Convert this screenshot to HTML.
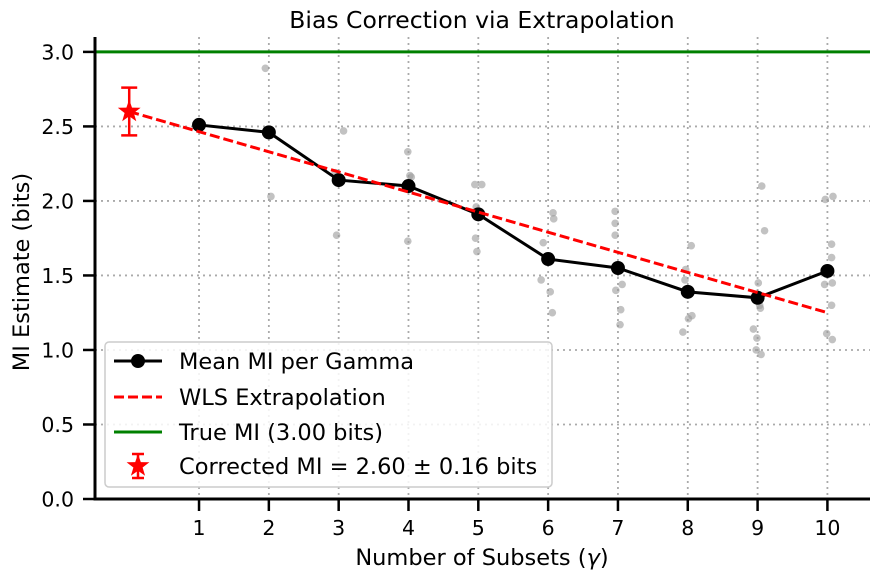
<!DOCTYPE html>
<html><head><meta charset="utf-8"><style>
body{margin:0;background:#fff;}
svg{display:block;font-family:"DejaVu Sans","Liberation Sans",sans-serif;}
</style></head><body>
<svg id="chart" width="878" height="583" viewBox="0 0 878 583" xmlns="http://www.w3.org/2000/svg"></svg>
<script>
const gammas=[1,2,3,4,5,6,7,8,9,10];
const meanMI=[2.51,2.46,2.14,2.10,1.91,1.61,1.55,1.39,1.35,1.53];
const scatterG=[1,2,2,3,3,3,4,4,4,4,5,5,5,5,5,6,6,6,6,6,6,7,7,7,7,7,7,7,8,8,8,8,8,8,8,9,9,9,9,9,9,9,9,9,10,10,10,10,10,10,10,10,10];
const scatterOff=[0,-0.05,0.03,0.07,-0.03,-0.05,-0.01,0.02,0.04,-0.01,-0.05,0.05,-0.03,-0.04,-0.02,0.07,0.08,-0.07,-0.1,0.03,0.06,-0.04,-0.04,-0.04,0.06,-0.03,0.04,0.03,0.05,-0.03,-0.04,0.01,0.06,-0.07,0.0,0.06,0.1,0.01,0.03,0.04,-0.06,-0.01,-0.02,0.05,-0.03,0.08,0.06,0.06,0.07,-0.04,0.06,-0.01,0.07];
const scatterV=[2.51,2.89,2.03,2.47,1.77,2.19,2.33,2.17,2.16,1.73,2.11,2.11,1.96,1.75,1.66,1.92,1.88,1.72,1.47,1.39,1.25,1.93,1.85,1.77,1.44,1.40,1.27,1.17,1.70,1.54,1.47,1.21,1.23,1.12,1.38,2.10,1.80,1.45,1.30,1.28,1.14,1.08,1.00,0.97,2.01,2.03,1.71,1.62,1.45,1.44,1.30,1.11,1.07];
const wlsX=[0,10];
const wlsY=[2.60,1.25];
const trueMI=3.0;
const corrected=2.60, correctedErr=0.16;
const xTicks=[1,2,3,4,5,6,7,8,9,10];
const yTicks=[0,0.5,1.0,1.5,2.0,2.5,3.0];
const yTickLabels=["0.0","0.5","1.0","1.5","2.0","2.5","3.0"];

const L=95,R=870,T=37,B=499;
const xMin=-0.49,xMax=10.61,yMin=0,yMax=3.1;
const sx=v=>L+(v-xMin)/(xMax-xMin)*(R-L);
const sy=v=>B-(v-yMin)/(yMax-yMin)*(B-T);
const svg=document.getElementById('chart');
const NS='http://www.w3.org/2000/svg';
function mk(tag,attrs,parent){const e=document.createElementNS(NS,tag);for(const k in attrs)e.setAttribute(k,attrs[k]);(parent||svg).appendChild(e);return e;}

xTicks.forEach(t=>{const l=mk('line',{x1:sx(t),x2:sx(t),y1:T,y2:B,stroke:'#aaa','stroke-width':1.8,'stroke-dasharray':'2,4'});

});
yTicks.forEach(t=>{const l=mk('line',{x1:L,x2:R,y1:sy(t),y2:sy(t),stroke:'#aaa','stroke-width':1.8,'stroke-dasharray':'2,4'});

});

scatterV.forEach((v,i)=>{const c=mk('circle',{cx:sx(scatterG[i]+scatterOff[i]),cy:sy(v),r:3.8,fill:'#999','fill-opacity':0.6});

});

const tl=mk('line',{x1:L,x2:R,y1:sy(trueMI),y2:sy(trueMI),stroke:'#008000','stroke-width':3});



const mp=mk('polyline',{points:gammas.map((g,i)=>sx(g)+','+sy(meanMI[i])).join(' '),fill:'none',stroke:'#000','stroke-width':3});


gammas.forEach((g,i)=>{const c=mk('circle',{cx:sx(g),cy:sy(meanMI[i]),r:7,fill:'#000'});

});

const wl=mk('line',{x1:sx(wlsX[0]),y1:sy(wlsY[0]),x2:sx(wlsX[1]),y2:sy(wlsY[1]),stroke:'#ff0000','stroke-width':3,'stroke-dasharray':'10,4'});



function star(cx,cy,r,parent){const pts=[];for(let k=0;k<10;k++){const a=-Math.PI/2+k*Math.PI/5;const rr=k%2?r*0.4:r;pts.push((cx+rr*Math.cos(a)).toFixed(1)+','+(cy+rr*Math.sin(a)).toFixed(1));}return mk('polygon',{points:pts.join(' '),fill:'#ff0000'},parent);}
const cg=mk('g',{});


const cx0=sx(0);
mk('line',{x1:cx0,x2:cx0,y1:sy(corrected+correctedErr),y2:sy(corrected-correctedErr),stroke:'#f00','stroke-width':2.5},cg);
mk('line',{x1:cx0-8,x2:cx0+8,y1:sy(corrected+correctedErr),y2:sy(corrected+correctedErr),stroke:'#f00','stroke-width':2.5},cg);
mk('line',{x1:cx0-8,x2:cx0+8,y1:sy(corrected-correctedErr),y2:sy(corrected-correctedErr),stroke:'#f00','stroke-width':2.5},cg);
star(cx0,sy(corrected),12,cg);

const ax=mk('line',{x1:L-1.5,x2:R,y1:B,y2:B,stroke:'#000','stroke-width':3});


const ay=mk('line',{x1:L,x2:L,y1:T,y2:B+1.5,stroke:'#000','stroke-width':3});


xTicks.forEach(t=>{mk('line',{x1:sx(t),x2:sx(t),y1:B,y2:B+12,stroke:'#000','stroke-width':2.5});
const tx=mk('text',{x:sx(t),y:B+36,'text-anchor':'middle','font-size':20.5});tx.textContent=t;

});
yTicks.forEach((t,i)=>{mk('line',{x1:L-12,x2:L,y1:sy(t),y2:sy(t),stroke:'#000','stroke-width':2.5});
const tx=mk('text',{x:L-21,y:sy(t)+7.5,'text-anchor':'end','font-size':20.5});tx.textContent=yTickLabels[i];

});

const title=mk('text',{x:482,y:28,'text-anchor':'middle','font-size':23.5});title.textContent='Bias Correction via Extrapolation';


const xt=mk('text',{x:482,y:565,'text-anchor':'middle','font-size':22.5});xt.innerHTML='Number of Subsets (<tspan font-style="italic">γ</tspan>)';


const yt=mk('text',{x:0,y:0,'text-anchor':'middle','font-size':22.5,transform:'translate(29,272) rotate(-90)'});yt.textContent='MI Estimate (bits)';



const lg=mk('g',{});


mk('rect',{x:105,y:342,width:447,height:145,rx:4,fill:'#fff','fill-opacity':0.85,stroke:'#ccc','stroke-width':1.5},lg);
const rows=[{y:361,t:'Mean MI per Gamma',n:'legend-mean-mi'},{y:397,t:'WLS Extrapolation',n:'legend-wls'},{y:432,t:'True MI (3.00 bits)',n:'legend-true-mi'},{y:466,t:'Corrected MI = 2.60 ± 0.16 bits',n:'legend-corrected-mi'}];
rows.forEach((r,i)=>{const g=mk('g',{},lg);


if(i===0){mk('line',{x1:114,x2:162,y1:r.y,y2:r.y,stroke:'#000','stroke-width':3},g);mk('circle',{cx:138,cy:r.y,r:7,fill:'#000'},g);}
if(i===1){mk('line',{x1:114,x2:162,y1:r.y,y2:r.y,stroke:'#f00','stroke-width':3,'stroke-dasharray':'10,4'},g);}
if(i===2){mk('line',{x1:114,x2:162,y1:r.y,y2:r.y,stroke:'#008000','stroke-width':3},g);}
if(i===3){mk('line',{x1:138,x2:138,y1:r.y-12,y2:r.y+12,stroke:'#f00','stroke-width':2.5},g);mk('line',{x1:132,x2:144,y1:r.y-12,y2:r.y-12,stroke:'#f00','stroke-width':2.5},g);mk('line',{x1:132,x2:144,y1:r.y+12,y2:r.y+12,stroke:'#f00','stroke-width':2.5},g);star(138,r.y,12,g);}
const tx=mk('text',{x:179,y:r.y+8,'font-size':22.5},g);tx.textContent=r.t;});
</script>
</body></html>
